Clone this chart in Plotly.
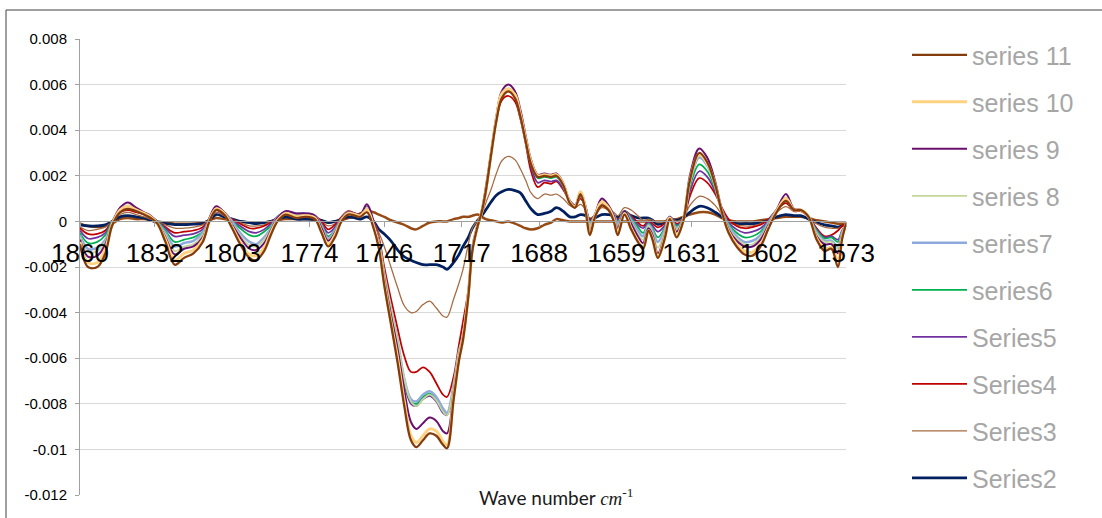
import plotly.graph_objects as go

UNIT = 1e-4  # series values below in units of 1e-4

wavenumber = [1860, 1857, 1853.5, 1850.5, 1848, 1845, 1842, 1839, 1836, 1833.5,
              1831, 1828, 1824.5, 1821, 1817.5, 1814, 1811.5, 1809, 1806, 1803,
              1800, 1796.5, 1794, 1791, 1788.5, 1786, 1783, 1779, 1775.5, 1772,
              1769.5, 1767, 1764.5, 1762, 1759.5, 1757, 1755, 1752.5, 1750, 1748,
              1746, 1743.5, 1741, 1738.5, 1736, 1734, 1731.5, 1729, 1726.5, 1724,
              1722.5, 1720, 1718, 1716.5, 1714.5, 1713, 1711, 1709.5, 1708, 1706,
              1704, 1702, 1699.5, 1697, 1695, 1693, 1691, 1688.5, 1686, 1683.5,
              1681.5, 1679, 1676.5, 1674.5, 1672.5, 1670.5, 1669, 1667, 1664.5, 1662,
              1660, 1658.5, 1656, 1653.5, 1651, 1649, 1647, 1645.5, 1643.5, 1641,
              1639, 1636.5, 1634, 1631.5, 1628, 1625, 1622, 1619.5, 1617, 1614,
              1611, 1608, 1605, 1602, 1599, 1595.5, 1592.5, 1590, 1587, 1584,
              1581, 1578.5, 1576, 1574.5, 1573]

s1 = [-1, -2, -2.5, -2, -1, 1, 1.5, 1, 1, 0.5,
      0, -0.5, -1, -1, -1, -0.5, 0.5, 1.5, 1, 0.5,
      0, -0.5, -0.5, -0.5, 0, 0.5, 1, 1, 1, 0.5,
      0, -0.5, 0, 0.5, 1.5, 2, 3.5, 4.5, 4, 3,
      2, 0.5, -0.5, -1.5, -3, -3.5, -2, -0.5, 0, 0,
      0, 1, 1.5, 2, 2, 2.5, 3, 2, 1, 0.5,
      0, -0.5, 0, -1, -2, -3, -3.5, -3, -1.5, -0.5,
      1, 0.5, 0, 0, 0, 0, 0, 0, 0, 0,
      0, 0, 0, 0, 0, 0, 0, 0, 0, 0,
      0.5, 1, 2, 3, 4, 4, 3, 1.5, 0.5, 0,
      0, 0, 0.5, 1, 1.5, 2, 2, 2, 1.5, 0.5,
      0, -0.5, -1, -1, -1]

s2 = [-1.5, -2, -2, -1.5, 0, 2, 2.5, 2, 1.5, 0.5,
      -0.5, -1, -1.4, -1.4, -1.2, -1, 0.5, 3, 2, 1,
      0, -0.5, -1, -0.5, 0, 1, 2, 1, 1, 1,
      0.5, -0.5, 0, 1, 2, 1.5, 1, 2, 0, -3.5,
      -5.5, -8.5, -12.5, -15.5, -17, -18, -19, -19, -19, -20,
      -21, -18, -14.5, -11, -7, -3, 0.5, 2.5, 5, 8.5,
      11.5, 13, 14, 13.5, 12.5, 9, 5.5, 3, 3.5, 4.5,
      6, 4.5, 2, 2, 3, 2.5, 1, 1.5, 3, 3,
      2.5, 2, 3, 2.5, 1.5, 1.5, 1.5, 0.5, -1.3, -0.5,
      1, 0.5, 1.5, 4, 6.6, 6, 4, 2, 0, -1,
      -1, -1, -0.5, 0.5, 2, 3, 2.5, 2.5, 1, -0.5,
      -1.5, -2, -2.5, -2, -1.5]

s3 = [-2.5, -4, -3.5, -2.5, 0, 3, 4, 3, 2, 1,
      0, -1.5, -3, -3, -2.5, -1.5, 1, 4, 2.5, 1,
      -0.5, -2, -2, -1.5, 0, 1.5, 3, 2, 2, 1.5,
      0, -2, -1, 1.5, 3.5, 2.5, 2, 5, 0, -5,
      -11, -20, -29, -37, -40, -39.5, -36.5, -35, -38, -41.5,
      -42, -34, -27, -21, -10, -3, 0.5, 3, 8, 14,
      21, 26.5, 28.5, 27, 23, 18, 12.5, 10, 12, 11.5,
      12, 10, 7, 6, 7.5, 5, 1.5, 3, 6, 5,
      4, 2.5, 6, 5, 2.5, 0.5, 1, 0.5, -0.5, 0,
      2, 0, 1.5, 7, 11, 10, 7, 3, 0, -1.5,
      -2, -2, -1, 0.5, 4, 6.5, 4.5, 4.5, 2, -1,
      -2.5, -3, -3, -2, -1]

s4 = [-3, -5.5, -5.5, -4, 0, 4, 5, 4, 3, 1.5,
      0, -2.5, -5, -4.5, -4, -2.5, 1, 5, 3, 1,
      -1, -3, -3, -2, -0.5, 2, 4, 3, 3, 2.5,
      0, -3.5, -1.5, 2, 4.5, 3.5, 3, 6, 0, -7,
      -20, -34, -47, -59, -66, -66, -64, -66, -71, -76,
      -77, -68, -54, -44, -30, -11, -1, 5, 15, 30,
      44, 53, 55, 52.5, 45, 34, 22, 15, 17, 16.5,
      17.5, 14, 9, 7, 10, 6, 0.5, 3, 7, 5,
      3, 1, 4.5, 2.5, -0.5, -2, 0, -1, -2.6, -1,
      2, -1, 1, 11, 19, 17, 12, 6, 1, -2,
      -3, -2.5, -1.5, 1, 5, 8, 4.5, 4.5, 2, -3,
      -6.5, -6, -4, -2, -1]

s5 = [-4, -7.5, -7, -5, 0, 4, 6, 5, 3, 2,
      0, -3, -6.6, -6, -5.5, -3.5, 1, 5, 3, 0.5,
      -2, -4.5, -5, -3.5, -1, 2, 4, 3, 3, 2.5,
      -1, -5, -2.5, 1.5, 4, 3, 2.5, 6.5, -0.5, -9,
      -23, -39, -54, -71, -80, -81, -78, -76.5, -79, -84,
      -85, -72.5, -57.5, -50.5, -31, -12, -2, 4, 13, 29.5,
      45, 55.5, 58, 55, 47, 35.5, 24, 17, 18, 17.5,
      18, 14.5, 9, 7, 11, 6, 0, 3, 8, 6,
      3, 0.5, 4.5, 2, -1.5, -3, -0.5, -2, -4.5, -2,
      2, -1.5, 1, 13, 22, 19.5, 13, 5, -0.5, -3.5,
      -5, -4.5, -3, 0.5, 5, 9, 5, 5, 2, -3.5,
      -7, -6.5, -8, -4, -2]

s6 = [-5, -9.5, -9, -6, 0, 5, 6.5, 5, 3.5, 2,
      0, -4, -9, -8, -7, -4.5, 1, 5.5, 3.5, 0,
      -3, -6, -6.5, -4.5, -2, 2, 4, 3, 3, 2,
      -1.5, -6.5, -3.5, 1.5, 4, 3, 2.5, 6, -1, -9,
      -23, -38, -53, -70, -79, -80, -77, -75.5, -78, -83,
      -84.5, -72, -57, -50, -31, -12, -2, 4, 13, 29.5,
      45, 56, 58, 55.5, 47.5, 36, 25.5, 19, 19.5, 19,
      19.5, 15.5, 9, 7, 11.5, 6, -0.5, 3, 8.5, 6,
      3, 0, 4.5, 1.5, -2.5, -5, -1, -3, -7, -3,
      2, -2, 1, 15, 25, 22, 14, 5, -1, -5,
      -7, -6.5, -4.5, 0, 5, 9.5, 5, 5, 2, -4,
      -7.5, -7, -9, -4.5, -2]

s7 = [-6, -12, -11.5, -8, -1, 5, 6.5, 5, 3.5, 2,
      -0.5, -5, -11, -9.5, -8.5, -5, 1, 6, 4, 0,
      -5, -9, -10, -7, -3, 2, 4, 3.5, 3.5, 2.5,
      -2, -7.5, -4, 1, 4, 3, 2.5, 6, -1, -9,
      -23, -38, -52, -69, -78, -79, -76, -74.5, -77, -82,
      -84, -71.5, -57, -50, -31, -12, -2, 4, 13, 29.5,
      45, 56, 58, 55.5, 47.5, 36, 26, 20, 20.5, 20,
      20, 16, 9, 7, 12, 6, -1.5, 3, 9, 6,
      3, -1, 4, 0.5, -4, -6.5, -1.5, -4, -9, -4,
      2, -3, 1, 17, 28, 24.5, 15.5, 5, -2, -6.5,
      -9, -8.5, -6, -0.5, 5, 10, 5, 5, 2, -5,
      -8.5, -8.5, -11, -5, -2]

s8 = [-7, -13.5, -13, -9, -1, 5, 7, 5.5, 3.5, 2,
      -0.5, -6, -13, -11, -10, -6, 1, 6, 4, -1,
      -6, -10.5, -11, -8, -3.5, 1.5, 4, 3, 3, 2,
      -2.5, -8, -4.5, 1, 4, 3, 2.5, 6, -1, -9,
      -23, -38, -52, -69, -79, -81, -78, -76, -78.5, -83.5,
      -85, -72, -57, -50, -31, -12, -2, 4, 13, 29.5,
      45, 56, 58.5, 56, 48, 36.5, 26, 20, 20.5, 20,
      20.5, 16.5, 9, 7, 12.5, 6, -2, 3, 9, 6.5,
      2.5, -2, 4, -0.5, -5.5, -8, -2, -5, -11.5, -5,
      2, -3.5, 1, 17, 29, 25, 15.5, 4.5, -3, -7.5,
      -10, -10, -7, -1, 5, 10.5, 5, 5, 2, -5.5,
      -9, -9, -12, -5.5, -2]

s9 = [-8, -15.5, -15, -10, -1, 6, 8.3, 6, 4, 2.5,
      -0.5, -7, -14.5, -12, -11, -7, 1.5, 6.6, 4, -1.5,
      -7, -12, -12.5, -9.5, -4, 1.5, 4.5, 3.5, 3.5, 2.5,
      -3, -8.5, -5, 1, 4, 3.5, 3, 7.5, 0, -10,
      -25, -41, -56, -74, -88, -91, -88.5, -86, -87.5, -92,
      -93, -75, -59, -51, -32, -12.5, -2, 4, 13, 30,
      46, 57, 60, 57, 49, 37.5, 27, 20.5, 21, 20.5,
      21, 17, 9, 7, 13, 6, -4, 3, 10, 7,
      2.5, -3, 4.5, -1, -6.5, -9.5, -3, -6, -14, -6.5,
      2, -4.5, 1, 20, 32, 28, 17.5, 5, -3.5, -8.5,
      -11, -11, -8, -1.5, 5, 12, 5.5, 5, 2, -6.5,
      -10, -10, -14, -6, -2]

s10 = [-9, -18, -18, -12, -1.5, 5, 6.5, 5, 3.5, 2,
       -1, -8, -17, -14, -12.5, -8, 0.5, 5.5, 3.5, -2.5,
       -9, -14.5, -15, -11.5, -5, 0.5, 3.5, 2, 2.5, 1.5,
       -4.5, -10, -6, 0.5, 3.5, 3, 2.5, 5, -2, -11,
       -27, -44, -60, -79, -94, -97, -94, -91, -92, -96.5,
       -98, -77, -60, -51.5, -32, -12.5, -2, 4, 13, 29.5,
       45, 56, 58, 55.5, 47, 36, 26, 20, 20.5, 20,
       20.5, 16.5, 8.5, 6.5, 13, 5, -5.5, 2.5, 8.5, 6,
       1, -5, 3.5, -3, -8.5, -11.5, -4, -7.5, -15.5, -7.5,
       1.5, -6, 0.5, 18, 29.5, 25.5, 16, 4, -4.5, -10,
       -13, -13.5, -10, -2.5, 4.5, 10, 5, 5, 2, -7.5,
       -12, -11.5, -17, -7, -1]

s11 = [-10, -20, -20, -14, -2, 4, 5.5, 4.5, 3, 1.5,
       -1, -9, -19, -16, -14, -9, 0, 5, 3, -3,
       -10, -16, -17, -13, -6, 0, 3, 1.5, 2, 1,
       -5, -11, -7, 0, 3, 2.5, 2, 4, -3, -12,
       -28, -45, -62, -81, -96, -99, -96, -93, -94, -98,
       -99.5, -78, -61, -52, -33, -13, -2, 4, 13, 29,
       44, 54, 57, 54, 46, 35, 25, 19.5, 20, 19.5,
       20, 16, 8, 6, 12, 4, -6, 2, 7, 5,
       0, -6, 3, -3.5, -9, -12, -4, -8, -16, -8,
       1, -7, 0, 18, 30, 26, 16, 4, -5, -11,
       -14.5, -15, -11, -3, 4, 9, 5, 5, 2, -8,
       -13, -12, -20, -8, -1]

series_names = ["Series1", "Series2", "Series3", "Series4", "Series5", "series6",
                "series7", "series 8", "series 9", "series 10", "series 11"]
series_values = [s1, s2, s3, s4, s5, s6, s7, s8, s9, s10, s11]
series_colors = ["#964A14", "#002060", "#A56A40", "#C00000", "#7030A0", "#00B050",
                 "#8EA9DB", "#C3D69B", "#6B0F6E", "#FFD280", "#843C0C"]
series_widths = [2.5, 2.75, 1.25, 1.75, 1.75, 1.75, 2.5, 1.75, 2.0, 3.0, 2.25]

x_tick_labels = ["1860", "1832", "1803", "1774", "1746", "1717", "1688", "1659",
                 "1631", "1602", "1573"]
y_tick_vals = [-0.012, -0.01, -0.008, -0.006, -0.004, -0.002, 0, 0.002, 0.004, 0.006, 0.008]
y_tick_text = ["-0.012", "-0.01", "-0.008", "-0.006", "-0.004", "-0.002", "0",
               "0.002", "0.004", "0.006", "0.008"]

fig = go.Figure()
n = len(series_names)
for i, (name, vals, col, w) in enumerate(zip(series_names, series_values,
                                              series_colors, series_widths)):
    fig.add_trace(go.Scatter(
        x=wavenumber, y=[v * UNIT for v in vals], mode="lines", name=name,
        line=dict(color=col, width=w, shape="spline", smoothing=1.0),
        legendgroup=name, legendrank=n - i, showlegend=(i != 0),
        hoverinfo="skip"))

W, H = 1102, 518
L, R, T, B = 80, 256, 39, 23
pw, ph = W - L - R, H - T - B

def px_x(p):
    return (p - L) / pw

def px_y(p):
    return (H - B - p) / ph

fig.update_layout(
    width=W, height=H,
    margin=dict(l=L, r=R, t=T, b=B, pad=0),
    paper_bgcolor="white", plot_bgcolor="white",
    font=dict(family="Liberation Sans, Arial, sans-serif", color="#000000"),
    xaxis=dict(
        range=[1860, 1573], tickmode="array",
        tickvals=[int(t) for t in x_tick_labels], ticktext=x_tick_labels,
        showgrid=False, zeroline=False,
        anchor="free", position=0.6,
        showline=True, linecolor="#A0A0A0", linewidth=1,
        ticks="outside", ticklen=5, tickcolor="#A0A0A0",
        tickfont=dict(size=26, color="#000000"),
        ticklabelstandoff=3,
    ),
    yaxis=dict(
        range=[-0.012, 0.008], tickmode="array",
        tickvals=y_tick_vals, ticktext=y_tick_text,
        showgrid=True, gridcolor="#D9D9D9", gridwidth=1,
        zeroline=False, showline=True, linecolor="#A0A0A0", linewidth=1,
        ticks="outside", ticklen=4, tickcolor="#A0A0A0",
        tickfont=dict(size=15, color="#000000"),
        ticklabelstandoff=5,
    ),
    legend=dict(
        x=px_x(907), y=px_y(32), xanchor="left", yanchor="top",
        traceorder="grouped", tracegroupgap=11.5, itemwidth=55,
        font=dict(size=25, color="#A6A6A6"),
        bgcolor="rgba(0,0,0,0)", maxheight=1.0,
    ),
    showlegend=True,
)

# chart-area border (cut off at the right and bottom, as in the reference)
fig.add_shape(type="rect", xref="paper", yref="paper",
              x0=px_x(6), x1=px_x(1140), y0=px_y(560), y1=px_y(10),
              line=dict(color="#404040", width=1), fillcolor="rgba(0,0,0,0)",
              layer="below")

fig.add_annotation(
    xref="paper", yref="paper", x=px_x(556), y=px_y(497),
    xanchor="center", yanchor="middle", showarrow=False,
    text="Wave number <span style=\"font-family:'Liberation Serif', serif\"><i>cm</i><sup>-1</sup></span>",
    font=dict(family="Lato, Carlito, sans-serif", size=19, color="#1A1A1A"),
    bgcolor="white", borderpad=20,
)

fig.write_html("out.html")
